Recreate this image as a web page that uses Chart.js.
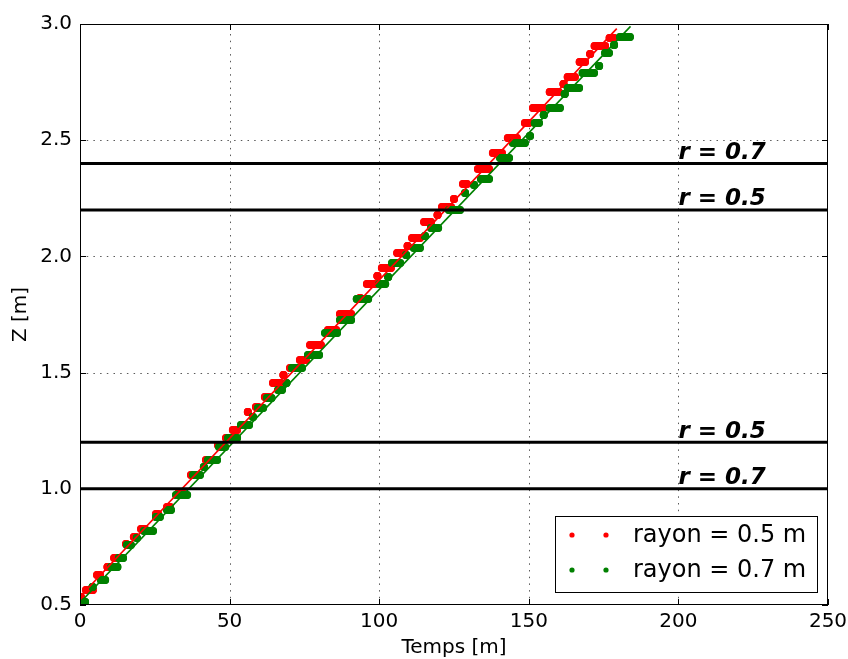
<!DOCTYPE html>
<html>
<head>
<meta charset="utf-8">
<script src="https://cdn.jsdelivr.net/npm/chart.js@4/dist/chart.umd.min.js"></script>
<style>
  html, body { margin: 0; padding: 0; background: #fff; }
  canvas { display: block; }
</style>
</head>
<body>
<canvas id="chart" width="848" height="659"></canvas>
<script>
const xTicks = [0, 50, 100, 150, 200, 250];
const yTicks = [0.5, 1.0, 1.5, 2.0, 2.5, 3.0];

// paliers mesures, rayon = 0.5 m (niveau z, debut et fin du palier en temps)
const redZ = [0.534, 0.565, 0.629, 0.664, 0.702, 0.762, 0.793, 0.827, 0.892, 0.922,
  0.986, 1.059, 1.124, 1.188, 1.219, 1.253, 1.330, 1.352, 1.395, 1.455,
  1.490, 1.520, 1.554, 1.619, 1.683, 1.752, 1.821, 1.881, 1.916, 1.950,
  2.015, 2.045, 2.079, 2.148, 2.178, 2.213, 2.247, 2.312, 2.376, 2.445,
  2.509, 2.574, 2.639, 2.707, 2.742, 2.772, 2.836, 2.871, 2.905, 2.940];
const redStart = [0.3, 2.0, 5.7, 9.2, 11.4, 15.4, 18.0, 20.4, 25.4, 29.1,
  33.1, 37.1, 42.1, 46.1, 48.8, 51.1, 56.1, 58.8, 61.8, 64.5,
  68.0, 70.2, 73.5, 76.9, 82.9, 86.9, 93.6, 95.9, 99.4, 100.9,
  106.0, 109.5, 111.0, 115.0, 119.5, 121.0, 125.0, 128.0, 133.0, 138.0,
  143.0, 148.7, 151.4, 157.0, 161.6, 163.0, 167.0, 170.5, 172.0, 177.0];
const redEnd = [0.3, 4.3, 6.7, 9.2, 12.0, 15.4, 18.7, 21.7, 26.1, 30.1,
  34.1, 38.4, 42.8, 47.8, 50.1, 52.5, 56.1, 59.5, 63.2, 67.2,
  68.0, 72.5, 75.5, 80.5, 85.6, 90.6, 93.6, 98.6, 99.4, 103.9,
  108.0, 109.5, 113.6, 117.3, 119.5, 124.0, 125.0, 129.3, 136.7, 141.0,
  146.0, 150.0, 155.0, 160.0, 161.6, 165.4, 168.8, 170.5, 175.5, 178.5];

// paliers mesures, rayon = 0.7 m
const greenZ = [0.513, 0.577, 0.608, 0.664, 0.702, 0.758, 0.788, 0.818, 0.879, 0.909,
  0.973, 1.059, 1.094, 1.124, 1.180, 1.219, 1.275, 1.309, 1.348, 1.391,
  1.425, 1.455, 1.520, 1.576, 1.670, 1.726, 1.817, 1.881, 1.911, 1.972,
  2.006, 2.036, 2.088, 2.122, 2.200, 2.273, 2.307, 2.333, 2.423, 2.488,
  2.518, 2.574, 2.608, 2.639, 2.699, 2.725, 2.789, 2.819, 2.875, 2.910, 2.944];
const greenStart = [1.7, 4.2, 7.0, 10.4, 13.0, 15.7, 19.0, 21.4, 25.4, 29.1,
  32.1, 37.8, 41.4, 42.8, 46.5, 49.5, 53.8, 57.8, 59.5, 62.5,
  66.2, 69.0, 70.9, 76.2, 81.9, 86.9, 92.5, 100.0, 103.0, 104.3,
  109.0, 111.6, 115.3, 117.3, 123.3, 128.7, 131.7, 134.0, 140.4, 144.7,
  150.4, 152.0, 155.0, 157.0, 162.0, 163.0, 168.0, 173.5, 175.5, 178.5, 180.5];
const greenEnd = [1.7, 4.2, 8.4, 12.5, 14.4, 17.0, 19.0, 24.4, 26.7, 30.4,
  35.8, 40.1, 41.4, 45.8, 48.5, 52.5, 56.5, 57.8, 61.2, 64.0,
  67.5, 69.0, 74.2, 79.9, 85.9, 90.6, 96.3, 102.0, 103.0, 107.0,
  109.0, 113.6, 115.3, 119.7, 127.0, 128.7, 131.7, 136.7, 143.4, 148.7,
  150.4, 153.4, 155.0, 160.4, 162.0, 166.8, 171.8, 173.5, 176.8, 178.5, 183.8];

// droites de regression
const redFitT = [0, 179.4];
const redFitZ = [0.536, 2.98];
const greenFitT = [0, 184];
const greenFitZ = [0.51, 2.99];

// limites horizontales
const limitZ = [2.4, 2.2, 1.2, 1.0];
const limitLabels = ['r = 0.7', 'r = 0.5', 'r = 0.5', 'r = 0.7'];
const limitLabelT = 200;

const seriesLabels = ['rayon = 0.5 m', 'rayon = 0.7 m'];
const seriesColors = ['#ff0000', '#008000'];

function stairs(z, t0, t1) {
  const pts = [];
  z.forEach((v, i) => {
    pts.push({ x: t0[i], y: v }, { x: t1[i], y: v }, { x: t1[i], y: null });
  });
  return pts;
}

function pairs(t, z) {
  return t.map((v, i) => ({ x: v, y: z[i] }));
}

function dotSet(data, color, order) {
  return {
    data, order,
    borderColor: color,
    backgroundColor: color,
    borderWidth: 8,
    borderCapStyle: 'round',
    pointRadius: 4,
    pointBorderWidth: 0,
    pointBackgroundColor: color,
    spanGaps: false,
    clip: 0,
  };
}

function lineSet(data, color, width, order) {
  return {
    data, order,
    borderColor: color,
    borderWidth: width,
    pointRadius: 0,
    clip: 0,
  };
}

const datasets = [
  dotSet(stairs(redZ, redStart, redEnd), seriesColors[0], 10),
  dotSet(stairs(greenZ, greenStart, greenEnd), seriesColors[1], 9),
  lineSet(pairs(redFitT, redFitZ), seriesColors[0], 1.6, 8),
  lineSet(pairs(greenFitT, greenFitZ), seriesColors[1], 1.6, 7),
];
limitZ.forEach((z) => {
  datasets.push(lineSet([{ x: 0, y: z }, { x: 250, y: z }], '#000', 3, 1));
});

const FONT = 'DejaVu Sans';

const decor = {
  id: 'decor',
  beforeDatasetsDraw(chart) {
    const { ctx, chartArea: a, scales: { x, y } } = chart;
    ctx.save();
    ctx.strokeStyle = 'rgba(0,0,0,0.65)';
    ctx.lineWidth = 1;
    ctx.setLineDash([1.5, 5.2]);
    xTicks.slice(1, -1).forEach((v) => {
      const px = Math.round(x.getPixelForValue(v)) + 0.5;
      ctx.beginPath(); ctx.moveTo(px, a.bottom); ctx.lineTo(px, a.top); ctx.stroke();
    });
    yTicks.slice(1, -1).forEach((v) => {
      const py = Math.round(y.getPixelForValue(v)) + 0.5;
      ctx.beginPath(); ctx.moveTo(a.left, py); ctx.lineTo(a.right, py); ctx.stroke();
    });
    ctx.restore();
  },
  afterDatasetsDraw(chart) {
    const { ctx, chartArea: a, scales: { x, y } } = chart;
    ctx.save();
    // etiquettes des limites
    ctx.fillStyle = '#000';
    ctx.font = `italic bold 23px "${FONT}"`;
    ctx.textBaseline = 'alphabetic';
    ctx.textAlign = 'left';
    limitZ.forEach((z, i) => {
      ctx.fillText(limitLabels[i], x.getPixelForValue(limitLabelT), y.getPixelForValue(z + 0.02));
    });

    // cadre et graduations vers l'interieur
    ctx.strokeStyle = '#000';
    ctx.lineWidth = 1;
    ctx.strokeRect(a.left + 0.5, a.top + 0.5, a.right - a.left - 1, a.bottom - a.top - 1);
    const tl = 6;
    ctx.beginPath();
    xTicks.forEach((v) => {
      const px = Math.round(x.getPixelForValue(v)) + 0.5;
      ctx.moveTo(px, a.bottom); ctx.lineTo(px, a.bottom - tl);
      ctx.moveTo(px, a.top); ctx.lineTo(px, a.top + tl);
    });
    yTicks.forEach((v) => {
      const py = Math.round(y.getPixelForValue(v)) + 0.5;
      ctx.moveTo(a.left, py); ctx.lineTo(a.left + tl, py);
      ctx.moveTo(a.right, py); ctx.lineTo(a.right - tl, py);
    });
    ctx.stroke();

    // legende
    const bx = a.right - 273, by = a.bottom - 89, bw = 262, bh = 76;
    ctx.fillStyle = '#fff';
    ctx.fillRect(bx, by, bw, bh);
    ctx.strokeRect(bx + 0.5, by + 0.5, bw, bh);
    ctx.font = `24px "${FONT}"`;
    ctx.textBaseline = 'middle';
    seriesLabels.forEach((lab, i) => {
      const ry = by + 19 + i * 35;
      ctx.fillStyle = seriesColors[i];
      [17, 51].forEach((dx) => {
        ctx.beginPath(); ctx.arc(bx + dx, ry, 2.6, 0, Math.PI * 2); ctx.fill();
      });
      ctx.fillStyle = '#000';
      ctx.fillText(lab, bx + 78, ry + 1);
    });
    ctx.restore();
  },
};

new Chart(document.getElementById('chart'), {
  type: 'line',
  data: { datasets },
  options: {
    responsive: false,
    devicePixelRatio: 1,
    animation: false,
    events: [],
    layout: { padding: { top: 24, right: 20, left: 0, bottom: 0 } },
    plugins: { legend: { display: false }, tooltip: { enabled: false } },
    scales: {
      x: {
        type: 'linear', min: 0, max: 250,
        afterBuildTicks: (s) => { s.ticks = xTicks.map((v) => ({ value: v })); },
        afterFit: (s) => { s.height = 54; s.paddingRight = 0; s.paddingLeft = 0; },
        grid: { display: false, drawTicks: false },
        border: { display: false },
        ticks: {
          color: '#000', padding: 5, maxRotation: 0, autoSkip: false,
          font: { family: FONT, size: 20 },
          callback: (v) => String(v),
        },
        title: {
          display: true, text: 'Temps [m]', color: '#000', padding: 0,
          font: { family: FONT, size: 20, lineHeight: 1.1 },
        },
      },
      y: {
        type: 'linear', min: 0.5, max: 3.0,
        afterBuildTicks: (s) => { s.ticks = yTicks.map((v) => ({ value: v })); },
        afterFit: (s) => { s.width = 80; },
        grid: { display: false, drawTicks: false },
        border: { display: false },
        ticks: {
          color: '#000', padding: 8, autoSkip: false,
          font: { family: FONT, size: 20 },
          callback: (v) => Number(v).toFixed(1),
        },
        title: {
          display: true, text: 'Z [m]', color: '#000', padding: { top: 9, bottom: 0 },
          font: { family: FONT, size: 20, lineHeight: 1.2 },
        },
      },
    },
  },
  plugins: [decor],
});
</script>
</body>
</html>
